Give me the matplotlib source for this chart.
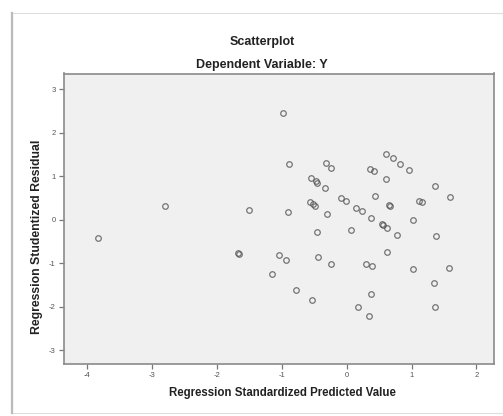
import matplotlib
matplotlib.use("Agg")
import matplotlib.pyplot as plt
from matplotlib.patches import Rectangle
from matplotlib.lines import Line2D

plt.rcParams['font.family'] = ['Liberation Sans', 'DejaVu Sans']

# Data
pred = [-3.83, -2.79, -1.68, -1.66, -1.50, -0.98, -0.89, -0.31, -0.24, -0.55,
        -0.47, -0.45, -0.34, -0.09, -0.01, -0.56, -0.51, -0.48, -0.91, -0.30,
        -0.45, -1.04, -0.93, -0.44, -0.24, -1.15, -0.78, -0.53, 0.07, 0.60,
        0.71, 0.82, 0.96, 0.36, 0.42, 0.61, 1.36, 1.60, 0.44, 0.66,
        0.67, 1.12, 1.16, 0.15, 0.24, 0.38, 1.02, 0.54, 0.56, 0.62,
        0.77, 1.37, 0.62, 0.30, 0.39, 1.02, 1.57, 1.34, 0.38, 0.17,
        1.36, 0.34]
resid = [-0.42, 0.31, -0.76, -0.79, 0.21, 2.46, 1.29, 1.31, 1.19, 0.95,
         0.89, 0.85, 0.73, 0.50, 0.43, 0.40, 0.35, 0.31, 0.17, 0.14,
         -0.28, -0.81, -0.92, -0.86, -1.03, -1.26, -1.61, -1.85, -0.23, 1.50,
         1.41, 1.28, 1.14, 1.16, 1.11, 0.94, 0.77, 0.52, 0.55, 0.33,
         0.32, 0.43, 0.40, 0.26, 0.19, 0.03, -0.02, -0.11, -0.13, -0.20,
         -0.35, -0.37, -0.74, -1.02, -1.07, -1.14, -1.11, -1.45, -1.71, -2.00,
         -2.01, -2.21]
xticks = [-4, -3, -2, -1, 0, 1, 2]
yticks = [-3, -2, -1, 0, 1, 2, 3]

W, H = 503, 416
fig = plt.figure(figsize=(W / 100, H / 100), dpi=100)
fig.patch.set_facecolor('white')

# outer card
fig.patches.append(Rectangle((12 / W, 1 - 413 / H), (W - 12) / W, (413 - 13) / H,
                             transform=fig.transFigure, facecolor='white',
                             edgecolor='#dddddd', linewidth=0.8, zorder=-2))
fig.lines.append(Line2D([11.5 / W, 11.5 / W], [1 - 413 / H, 1 - 13 / H],
                        transform=fig.transFigure, color='#bbbbbb', linewidth=1.6,
                        zorder=-1))

ax = fig.add_axes([63.5 / W, 1 - 364 / H, (494 - 63.5) / W, (364 - 73.5) / H])
ax.set_facecolor('#f0f0f0')
ax.plot(pred, resid, linestyle='none', marker='o', ms=4.0, mfc='none',
        mec='#555555', mew=0.9, alpha=0.8)

ax.set_xlim(-4.36, 2.27)
ax.set_ylim(-3.32, 3.36)
ax.set_xticks(xticks)
ax.set_yticks(yticks)
ax.set_xticklabels([str(t) for t in xticks])
ax.set_yticklabels([str(t) for t in yticks])
ax.tick_params(axis='both', length=3.5, width=0.9, color='#777777',
               labelcolor='#555555', labelsize=5.5, pad=2)
for s in ax.spines.values():
    s.set_color('#8a8a8a')
    s.set_linewidth(1.2)

fig.text(262 / W, 1 - 41.5 / H, 'Scatterplot', ha='center', va='center',
         fontsize=9, fontweight='bold', color='#222222')
fig.text(262 / W, 1 - 65 / H, 'Dependent Variable: Y', ha='center', va='center',
         fontsize=9, fontweight='bold', color='#222222')
fig.text(282 / W, 1 - 393 / H, 'Regression Standardized Predicted Value',
         ha='center', va='center', fontsize=8.3, fontweight='bold', color='#222222')
fig.text(37 / W, 1 - 237 / H, 'Regression Studentized Residual', rotation=90,
         ha='center', va='center', fontsize=8.8, fontweight='bold', color='#222222')

fig.savefig('out.png', dpi=100)
